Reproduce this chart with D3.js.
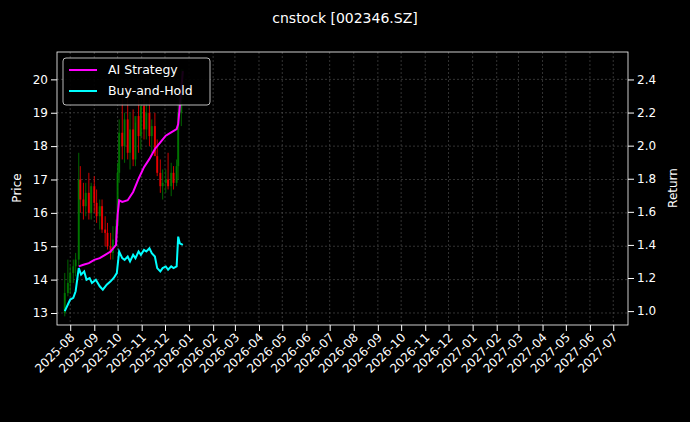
<!DOCTYPE html><html><head><meta charset="utf-8"><script src="https://cdn.jsdelivr.net/npm/d3@7"></script>
<style>body{margin:0;background:#000}svg{font-family:"DejaVu Sans",sans-serif}</style></head><body><svg id="c" width="690" height="422"></svg><script>
const dates=["2025-07-25","2025-07-29","2025-08-01","2025-08-05","2025-08-08","2025-08-12","2025-08-14","2025-08-18","2025-08-21","2025-08-25","2025-08-28","2025-09-01","2025-09-04","2025-09-08","2025-09-11","2025-09-15","2025-09-18","2025-09-22","2025-09-25","2025-09-29","2025-10-01","2025-10-03","2025-10-07","2025-10-10","2025-10-14","2025-10-17","2025-10-21","2025-10-24","2025-10-28","2025-10-31","2025-11-04","2025-11-07","2025-11-11","2025-11-14","2025-11-18","2025-11-21","2025-11-25","2025-11-28","2025-12-02","2025-12-05","2025-12-09","2025-12-12","2025-12-16","2025-12-18","2025-12-22","2025-12-24"];
const open =[13.0,13.6,13.9,14.2,14.4,14.6,17.0,16.4,16.2,16.6,16.0,16.8,16.3,15.9,16.2,15.5,15.4,15.0,14.8,15.2,15.6,17.2,18.4,18.0,18.8,17.8,18.5,17.6,18.9,18.3,19.2,18.5,19.0,18.3,18.6,17.7,17.2,16.8,16.9,17.0,16.8,17.2,16.9,17.4,19.0,19.6];
const high =[14.2,14.6,14.4,14.6,14.8,17.8,17.4,16.9,16.9,17.2,16.9,17.1,16.7,16.4,16.4,15.9,15.7,15.4,15.6,15.8,17.5,18.8,19.6,19.0,19.8,19.0,19.1,18.7,19.4,19.2,19.6,19.3,19.4,18.8,19.0,18.2,17.6,17.3,17.3,17.8,17.5,17.4,17.6,19.7,20.3,20.3];
const low  =[12.9,13.5,13.6,13.9,14.1,14.4,16.0,15.8,15.9,15.8,15.8,16.0,15.7,15.5,15.4,15.0,14.9,14.6,14.6,15.0,15.4,16.9,17.6,17.5,17.6,17.3,17.4,17.4,17.8,17.9,18.2,18.2,18.0,17.8,17.8,17.1,16.6,16.4,16.6,16.7,16.5,16.7,16.8,17.0,18.6,19.4];
const close=[13.6,13.9,14.2,14.4,14.6,17.0,16.4,16.2,16.6,16.0,16.8,16.3,15.9,16.2,15.5,15.4,15.0,14.8,15.2,15.6,17.2,18.4,18.0,18.8,17.8,18.5,17.6,18.9,18.3,19.2,18.5,19.0,18.3,18.6,17.7,17.2,16.8,16.9,17.0,16.8,17.2,16.9,17.4,19.0,19.6,19.8];
const stratDates=["2025-08-12","2025-08-18","2025-08-25","2025-09-01","2025-09-08","2025-09-15","2025-09-22","2025-09-29","2025-10-01","2025-10-03","2025-10-07","2025-10-14","2025-10-21","2025-10-28","2025-11-04","2025-11-11","2025-11-18","2025-11-25","2025-12-02","2025-12-09","2025-12-16","2025-12-18","2025-12-22","2025-12-24"];
const strat=[1.27,1.28,1.29,1.31,1.32,1.34,1.36,1.40,1.58,1.67,1.66,1.67,1.72,1.80,1.87,1.92,1.98,2.02,2.06,2.08,2.10,2.13,2.34,2.45];
const bhDates=["2025-07-25","2025-07-29","2025-08-01","2025-08-05","2025-08-08","2025-08-12","2025-08-15","2025-08-19","2025-08-22","2025-08-26","2025-08-29","2025-09-03","2025-09-08","2025-09-12","2025-09-17","2025-09-22","2025-09-26","2025-09-30","2025-10-03","2025-10-07","2025-10-10","2025-10-14","2025-10-17","2025-10-21","2025-10-24","2025-10-28","2025-10-31","2025-11-04","2025-11-07","2025-11-11","2025-11-14","2025-11-18","2025-11-21","2025-11-25","2025-11-28","2025-12-02","2025-12-05","2025-12-09","2025-12-12","2025-12-16","2025-12-18","2025-12-20","2025-12-24"];
const bh=[1.00,1.04,1.07,1.08,1.12,1.26,1.22,1.24,1.19,1.20,1.17,1.19,1.15,1.13,1.16,1.18,1.20,1.23,1.36,1.32,1.31,1.33,1.30,1.34,1.32,1.36,1.34,1.37,1.36,1.38,1.35,1.33,1.26,1.24,1.26,1.27,1.25,1.27,1.26,1.27,1.45,1.41,1.40];
const tickMonths=d3.timeMonths(new Date(2025,7,1),new Date(2027,6,2));
const leftTicks=[13,14,15,16,17,18,19,20], rightTicks=[1.0,1.2,1.4,1.6,1.8,2.0,2.2,2.4];
const P=s=>d3.timeParse("%Y-%m-%d")(s);
const svg=d3.select("#c"),L=57,R=628,T=52,B=325;
svg.append("rect").attr("width",690).attr("height",422).attr("fill","#000");
const x=d3.scaleTime().domain([new Date(2025,6,15),new Date(2027,6,20)]).range([L,R]);
const y=d3.scaleLinear().domain([12.64,20.82]).range([B,T]);
const y2=d3.scaleLinear().domain([0.916,2.566]).range([B,T]);
const g=svg.append("g");
g.selectAll(".gx").data(tickMonths).join("line").attr("x1",d=>x(d)).attr("x2",d=>x(d)).attr("y1",T).attr("y2",B).attr("stroke","#555").attr("stroke-dasharray","2,2").attr("stroke-width",0.6);
g.selectAll(".gy").data(leftTicks).join("line").attr("x1",L).attr("x2",R).attr("y1",d=>y(d)).attr("y2",d=>y(d)).attr("stroke","#555").attr("stroke-dasharray","2,2").attr("stroke-width",0.6);
const cd=dates.map((d,i)=>({d:P(d),o:open[i],h:high[i],l:low[i],c:close[i]}));
g.selectAll(".w").data(cd).join("line").attr("x1",d=>x(d.d)).attr("x2",d=>x(d.d)).attr("y1",d=>y(d.h)).attr("y2",d=>y(d.l)).attr("stroke",d=>d.c>=d.o?"green":"red").attr("stroke-width",0.8);
g.selectAll(".b").data(cd).join("rect").attr("x",d=>x(d.d)-1).attr("width",2).attr("y",d=>y(Math.max(d.o,d.c))).attr("height",d=>Math.max(0.5,Math.abs(y(d.o)-y(d.c)))).attr("fill",d=>d.c>=d.o?"green":"red").attr("opacity",0.8);
const ln=d3.line().x(d=>x(d[0])).y(d=>y2(d[1]));
g.append("path").attr("d",ln(stratDates.map((d,i)=>[P(d),strat[i]]))).attr("fill","none").attr("stroke","#ff00ff").attr("stroke-width",2);
g.append("path").attr("d",ln(bhDates.map((d,i)=>[P(d),bh[i]]))).attr("fill","none").attr("stroke","#00ffff").attr("stroke-width",2);
svg.append("rect").attr("x",L).attr("y",T).attr("width",R-L).attr("height",B-T).attr("fill","none").attr("stroke","#fff").attr("stroke-width",0.8);
const ax=svg.append("g").attr("transform",`translate(0,${B})`).call(d3.axisBottom(x).tickValues(tickMonths).tickFormat(d3.timeFormat("%Y-%m")).tickSizeOuter(0));
ax.selectAll("text").attr("transform","rotate(-45)").attr("text-anchor","end").attr("dx","-0.5em").attr("dy","0.3em");
const ay=svg.append("g").attr("transform",`translate(${L},0)`).call(d3.axisLeft(y).tickValues(leftTicks).tickSizeOuter(0));
const ay2=svg.append("g").attr("transform",`translate(${R},0)`).call(d3.axisRight(y2).tickValues(rightTicks).tickFormat(d3.format(".1f")).tickSizeOuter(0));
[ax,ay,ay2].forEach(a=>{a.select(".domain").remove();a.selectAll("line").attr("stroke","#fff");a.selectAll("text").attr("fill","#fff").attr("font-size",12).attr("font-family","DejaVu Sans");});
svg.append("text").attr("x",345).attr("y",23).attr("text-anchor","middle").attr("fill","#fff").attr("font-size",14).text("cnstock [002346.SZ]");
svg.append("text").attr("transform","translate(21,188) rotate(-90)").attr("text-anchor","middle").attr("fill","#fff").attr("font-size",12).text("Price");
svg.append("text").attr("transform","translate(677,188) rotate(-90)").attr("text-anchor","middle").attr("fill","#fff").attr("font-size",12).text("Return");
const lg=svg.append("g").attr("transform","translate(63,58)");
lg.append("rect").attr("width",147).attr("height",47).attr("rx",3).attr("fill","#000").attr("stroke","#ccc").attr("opacity",0.9);
[["AI Strategy","#ff00ff"],["Buy-and-Hold","#00ffff"]].forEach((e,i)=>{lg.append("line").attr("x1",6).attr("x2",34).attr("y1",12+i*21).attr("y2",12+i*21).attr("stroke",e[1]).attr("stroke-width",2);lg.append("text").attr("x",45).attr("y",16+i*21).attr("fill","#fff").attr("font-size",12.5).text(e[0]);});
</script></body></html>
